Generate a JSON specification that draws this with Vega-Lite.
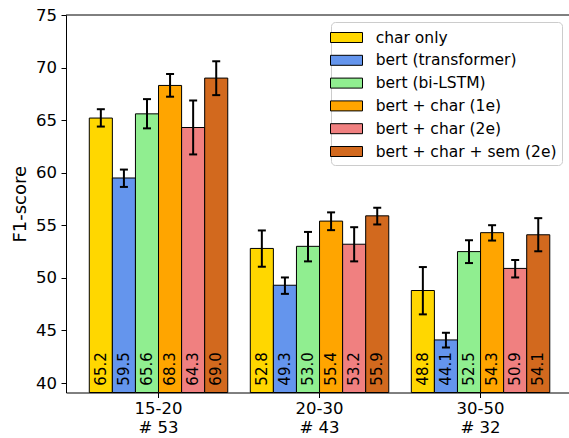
{
  "$schema": "https://vega.github.io/schema/vega-lite/v6.json",
  "width": 503,
  "height": 377.5,
  "autosize": {"type": "none"},
  "padding": {"left": 66, "top": 15, "right": 0, "bottom": 45.5},
  "background": "white",
  "config": {
    "view": {"stroke": null},
    "font": "DejaVu Sans",
    "axis": {"grid": false, "domainColor": "black", "domainWidth": 1, "tickColor": "black", "tickWidth": 1, "labelColor": "black", "titleColor": "black", "labelFont": "DejaVu Sans", "titleFont": "DejaVu Sans"}
  },
  "data": {
    "values": [
      {"group": "15-20\n# 53", "model": "char only", "f1": 65.2, "lo": 64.39, "hi": 66.04},
      {"group": "15-20\n# 53", "model": "bert (transformer)", "f1": 59.5, "lo": 58.65, "hi": 60.30},
      {"group": "15-20\n# 53", "model": "bert (bi-LSTM)", "f1": 65.6, "lo": 64.22, "hi": 67.0},
      {"group": "15-20\n# 53", "model": "bert + char (1e)", "f1": 68.3, "lo": 67.23, "hi": 69.39},
      {"group": "15-20\n# 53", "model": "bert + char (2e)", "f1": 64.3, "lo": 61.74, "hi": 66.87},
      {"group": "15-20\n# 53", "model": "bert + char + sem (2e)", "f1": 69.0, "lo": 67.38, "hi": 70.6},
      {"group": "20-30\n# 43", "model": "char only", "f1": 52.8, "lo": 51.06, "hi": 54.51},
      {"group": "20-30\n# 43", "model": "bert (transformer)", "f1": 49.3, "lo": 48.48, "hi": 50.04},
      {"group": "20-30\n# 43", "model": "bert (bi-LSTM)", "f1": 53.0, "lo": 51.57, "hi": 54.37},
      {"group": "20-30\n# 43", "model": "bert + char (1e)", "f1": 55.4, "lo": 54.54, "hi": 56.23},
      {"group": "20-30\n# 43", "model": "bert + char (2e)", "f1": 53.2, "lo": 51.57, "hi": 54.82},
      {"group": "20-30\n# 43", "model": "bert + char + sem (2e)", "f1": 55.9, "lo": 55.08, "hi": 56.67},
      {"group": "30-50\n# 32", "model": "char only", "f1": 48.8, "lo": 46.53, "hi": 51.03},
      {"group": "30-50\n# 32", "model": "bert (transformer)", "f1": 44.1, "lo": 43.38, "hi": 44.78},
      {"group": "30-50\n# 32", "model": "bert (bi-LSTM)", "f1": 52.5, "lo": 51.41, "hi": 53.58},
      {"group": "30-50\n# 32", "model": "bert + char (1e)", "f1": 54.3, "lo": 53.55, "hi": 55.01},
      {"group": "30-50\n# 32", "model": "bert + char (2e)", "f1": 50.9, "lo": 50.04, "hi": 51.7},
      {"group": "30-50\n# 32", "model": "bert + char + sem (2e)", "f1": 54.1, "lo": 52.53, "hi": 55.68}
    ]
  },
  "layer": [
    {
      "mark": {"type": "bar", "stroke": "black", "strokeWidth": 1},
      "encoding": {
        "x": {"field": "group", "type": "nominal", "sort": null,
              "scale": {"paddingInner": 0.14, "paddingOuter": 0.132, "align": 0.548},
              "axis": {"title": null, "labelAngle": 0, "labelExpr": "split(datum.label, '\\n')", "labelFontSize": 16.5, "labelLineHeight": 18.5, "tickSize": 5, "labelPadding": 3}},
        "xOffset": {"field": "model", "type": "nominal",
                    "sort": ["char only", "bert (transformer)", "bert (bi-LSTM)", "bert + char (1e)", "bert + char (2e)", "bert + char + sem (2e)"],
                    "scale": {"paddingInner": 0, "paddingOuter": 0}},
        "y": {"field": "f1", "type": "quantitative",
              "scale": {"domain": [39.1, 75], "nice": false, "zero": false},
              "axis": {"values": [40, 45, 50, 55, 60, 65, 70, 75], "tickSize": 5, "labelPadding": 4.5, "labelFontSize": 16.5, "title": "F1-score", "titleFontSize": 18, "titleFontWeight": "normal", "titlePadding": 6}},
        "y2": {"datum": 39.1},
        "color": {"field": "model", "type": "nominal",
                  "sort": ["char only", "bert (transformer)", "bert (bi-LSTM)", "bert + char (1e)", "bert + char (2e)", "bert + char + sem (2e)"],
                  "scale": {"domain": ["char only", "bert (transformer)", "bert (bi-LSTM)", "bert + char (1e)", "bert + char (2e)", "bert + char + sem (2e)"],
                            "range": ["#FFD700", "#6495ED", "#90EE90", "#FFA500", "#F08080", "#D2691E"]},
                  "legend": {"orient": "none", "legendX": 265, "legendY": 7, "title": null,
                             "symbolType": "M-1.6,-0.5H1.6V0.5H-1.6Z", "symbolSize": 400,
                             "symbolStrokeColor": "black", "symbolStrokeWidth": 1, "symbolOpacity": 1,
                             "labelFontSize": 15.5, "labelOffset": 18.7, "labelLimit": 400, "rowPadding": 3.8, "padding": 5,
                             "fillColor": "white", "strokeColor": "#cccccc", "cornerRadius": 4,
                             "labelFont": "DejaVu Sans", "labelColor": "black"}}
      }
    },
    {
      "mark": {"type": "rule", "strokeWidth": 2, "color": "black"},
      "encoding": {
        "x": {"field": "group", "type": "nominal", "sort": null},
        "xOffset": {"field": "model", "type": "nominal", "sort": ["char only", "bert (transformer)", "bert (bi-LSTM)", "bert + char (1e)", "bert + char (2e)", "bert + char + sem (2e)"]},
        "y": {"field": "lo", "type": "quantitative"},
        "y2": {"field": "hi"}
      }
    },
    {
      "mark": {"type": "tick", "size": 8, "thickness": 2, "color": "black", "opacity": 1},
      "encoding": {
        "x": {"field": "group", "type": "nominal", "sort": null},
        "xOffset": {"field": "model", "type": "nominal", "sort": ["char only", "bert (transformer)", "bert (bi-LSTM)", "bert + char (1e)", "bert + char (2e)", "bert + char + sem (2e)"]},
        "y": {"field": "lo", "type": "quantitative"}
      }
    },
    {
      "mark": {"type": "tick", "size": 8, "thickness": 2, "color": "black", "opacity": 1},
      "encoding": {
        "x": {"field": "group", "type": "nominal", "sort": null},
        "xOffset": {"field": "model", "type": "nominal", "sort": ["char only", "bert (transformer)", "bert (bi-LSTM)", "bert + char (1e)", "bert + char (2e)", "bert + char + sem (2e)"]},
        "y": {"field": "hi", "type": "quantitative"}
      }
    },
    {
      "mark": {"type": "text", "angle": 270, "align": "left", "baseline": "middle", "fontSize": 15, "color": "black", "font": "DejaVu Sans"},
      "encoding": {
        "x": {"field": "group", "type": "nominal", "sort": null},
        "xOffset": {"field": "model", "type": "nominal", "sort": ["char only", "bert (transformer)", "bert (bi-LSTM)", "bert + char (1e)", "bert + char (2e)", "bert + char + sem (2e)"]},
        "y": {"datum": 39.75},
        "text": {"field": "f1", "type": "quantitative", "format": ".1f"}
      }
    },
    {
      "data": {"values": [{}]},
      "mark": {"type": "rule", "color": "black", "strokeWidth": 1},
      "encoding": {"y": {"datum": 75}}
    }
  ]
}
